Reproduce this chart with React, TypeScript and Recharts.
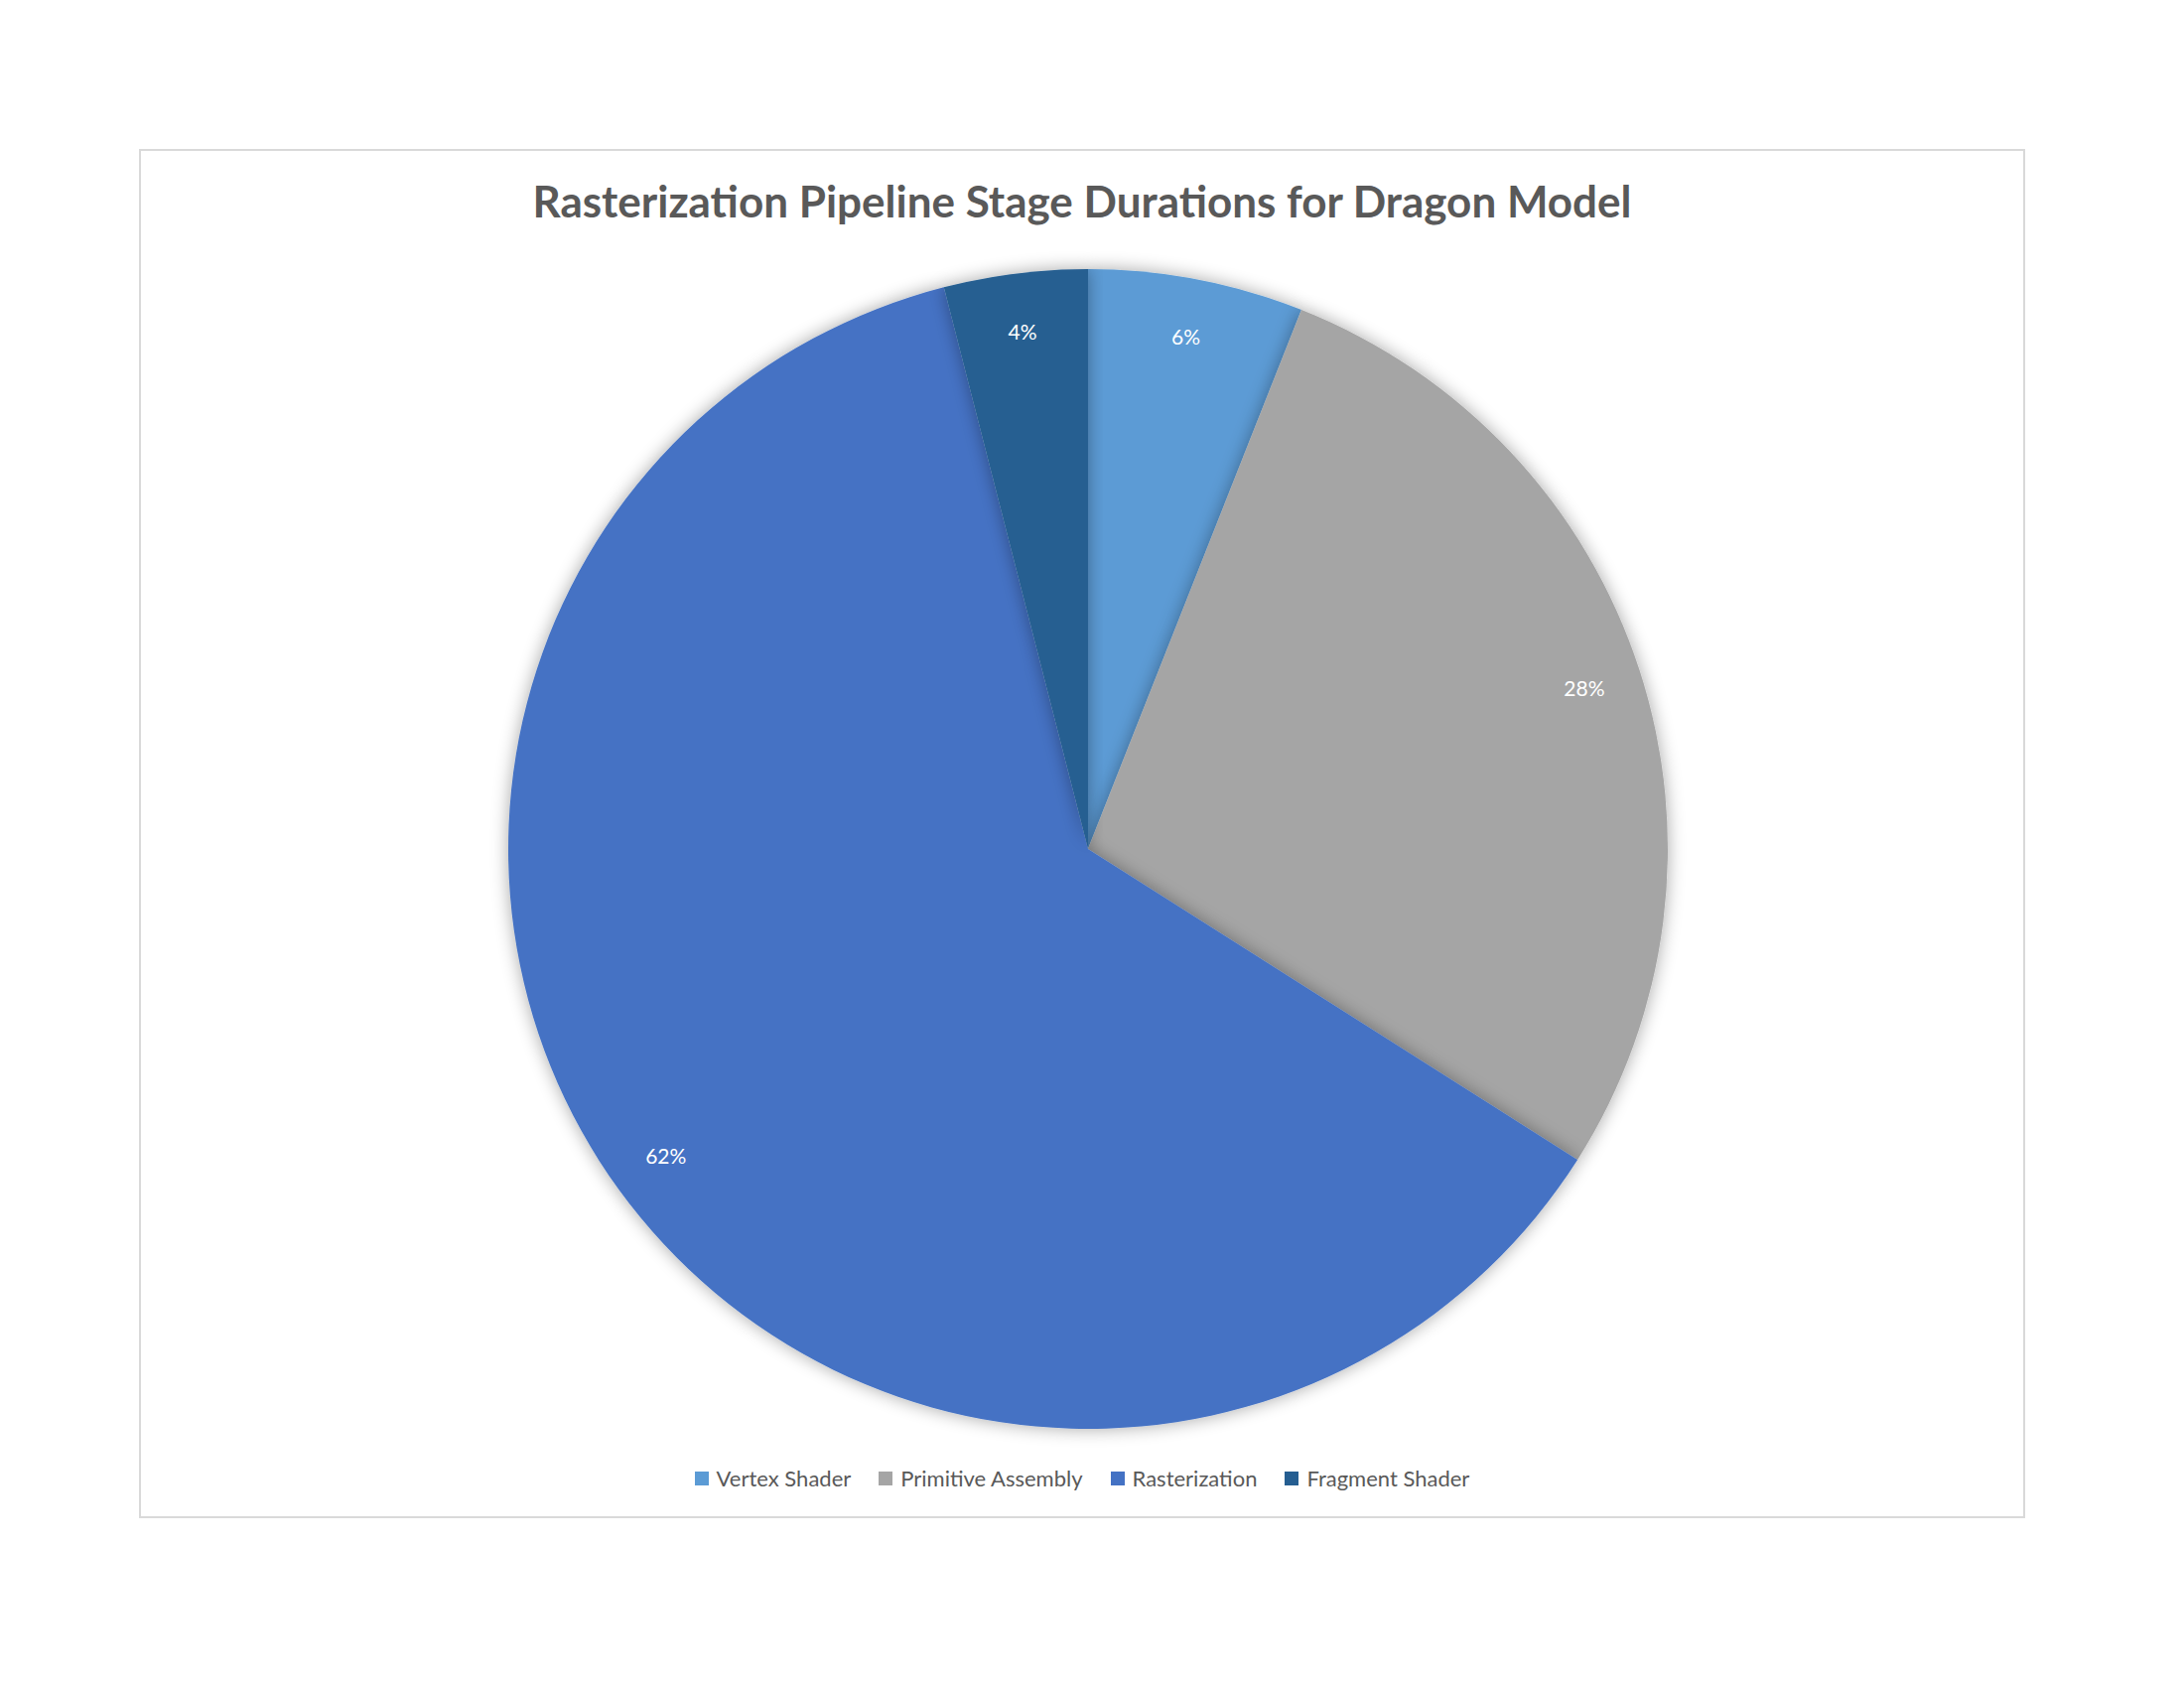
import { PieChart, Pie, Cell } from 'recharts';

const stages = ['Vertex Shader', 'Primitive Assembly', 'Rasterization', 'Fragment Shader'];
const shares = [6, 28, 62, 4];
const COLORS = ['#5B9BD5', '#A5A5A5', '#4472C4', '#255E91'];

const data = stages.map((name, i) => ({ name, value: shares[i] }));

const RAD = Math.PI / 180;
const renderLabel = ({ cx, cy, midAngle, outerRadius, value }: any) => {
  const r = outerRadius * 0.9;
  const x = cx + r * Math.cos(-midAngle * RAD);
  const y = cy + r * Math.sin(-midAngle * RAD);
  return (
    <text x={x} y={y} fill="#ffffff" fontSize={21} textAnchor="middle" dominantBaseline="central" fontFamily="Lato, 'Open Sans', sans-serif">
      {`${value}%`}
    </text>
  );
};

const App = () => (
  <div style={{ position: 'absolute', left: 0, top: 0, width: 2200, height: 1700, background: '#fff', fontFamily: "Lato, 'Open Sans', sans-serif" }}>
    <div style={{ position: 'absolute', left: 140, top: 150, width: 1900, height: 1379, border: '2px solid #d9d9d9', boxSizing: 'border-box' }} />
    <div style={{ position: 'absolute', left: 140, top: 176, width: 1900, textAlign: 'center', fontSize: 44, fontWeight: 700, color: '#595959' }}>
      Rasterization Pipeline Stage Durations for Dragon Model
    </div>
    <div style={{ position: 'absolute', left: 0, top: 0 }}>
      <PieChart width={2200} height={1700}>
        <defs>
          <filter id="pieShadow" x="-10%" y="-10%" width="120%" height="120%">
            <feGaussianBlur in="SourceAlpha" stdDeviation="9" />
            <feComponentTransfer><feFuncA type="linear" slope="0.35" /></feComponentTransfer>
            <feMerge><feMergeNode /><feMergeNode in="SourceGraphic" /></feMerge>
          </filter>
        </defs>
        <Pie
          data={data}
          dataKey="value"
          cx={1091}
          cy={850}
          outerRadius={584}
          startAngle={90}
          endAngle={-270}
          stroke="none"
          label={renderLabel}
          labelLine={false}
          isAnimationActive={false}
          style={{ filter: 'url(#pieShadow)' }}
        >
          {data.map((_, i) => (
            <Cell key={`cell-${i}`} fill={COLORS[i]} />
          ))}
        </Pie>
      </PieChart>
    </div>
    <div style={{ position: 'absolute', left: 140, top: 1475, width: 1900, display: 'flex', justifyContent: 'center', gap: 28, fontSize: 22, color: '#595959' }}>
      {data.map((d, i) => (
        <div key={d.name} style={{ display: 'flex', alignItems: 'center', gap: 8 }}>
          <span style={{ width: 14, height: 14, background: COLORS[i], display: 'inline-block' }} />
          <span>{d.name}</span>
        </div>
      ))}
    </div>
  </div>
);

export default App;
